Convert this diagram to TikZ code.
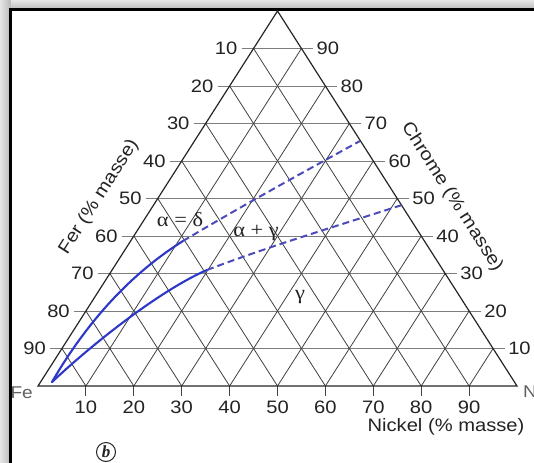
\documentclass[tikz,border=0pt]{standalone}
\usepackage{fontspec}
\setmainfont{Liberation Sans}[FakeStretch=1.12]
\newfontfamily\grk{Liberation Serif}[FakeStretch=1.12]
\newfontfamily\bserif{Liberation Serif}
\usetikzlibrary{calc}
\definecolor{curvecol}{RGB}{45,55,200}
\definecolor{dashcol}{RGB}{75,75,190}
\definecolor{txt}{RGB}{35,35,35}
\definecolor{hgrid}{RGB}{125,125,125}
\definecolor{dgrid}{RGB}{65,65,65}
\begin{document}
\begin{tikzpicture}[x=1pt,y=-1pt,
  lbl/.style={text=txt,inner sep=0pt,font=\fontsize{18}{20}\selectfont},
  hline/.style={draw=hgrid,line width=0.9pt},
  dline/.style={draw=dgrid,line width=0.8pt},
  outline/.style={draw=black!85,line width=1.2pt},
  solidcurve/.style={draw=curvecol,line width=2.1pt,line cap=round},
  dashcurve/.style={draw=dashcol,line width=2pt,dash pattern=on 7pt off 4pt},
  phase/.style={lbl,font=\grk\fontsize{20}{22}\selectfont}]
\useasboundingbox (0,0) rectangle (534,462);
% frame with shadow
\shade[top color=gray!20,bottom color=gray!55] (0,0) rectangle (534,9.5);
\shade[left color=gray!20,right color=gray!55] (0,0) rectangle (10.5,462);
\fill[white] (10.5,9.5) rectangle (540,470);
\draw[line width=2.8pt,black] (10.5,470) -- (10.5,9.5) -- (540,9.5);
% triangle vertices
\coordinate (Fe) at (38,386);
\coordinate (Ni) at (517,386);
\coordinate (Top) at (277.5,11);
% grid
\foreach \k in {1,...,9}{
  \pgfmathsetmacro{\f}{\k/10}
  \pgfmathsetmacro{\g}{1-\k/10}
  \pgfmathtruncatemacro{\lv}{100-10*\k}
  \pgfmathtruncatemacro{\rv}{10*\k}
  \coordinate (L\k) at ($(Fe)!\f!(Top)$);
  \coordinate (R\k) at ($(Ni)!\f!(Top)$);
  \coordinate (B\k) at ($(Fe)!\f!(Ni)$);
  \coordinate (S\k) at ($(Ni)!\g!(Top)$);
  \draw[hline] ($(L\k)+(-12,0)$) -- ($(R\k)+(12,0)$);
  \draw[dline] (B\k) -- (L\k);
  \draw[dline] (B\k) -- (S\k);
  \draw[dline] (B\k) -- ++(0,10);
  \node[lbl,anchor=east] (fl\k) at ($(L\k)+(-16,0)$) {\lv};
  \node[lbl,anchor=west] (cl\k) at ($(R\k)+(15,0)$) {\rv};
  \node[lbl] (nl\k) at ($(B\k)+(0,21)$) {\rv};
}
\draw[outline] (Fe) -- (Ni) -- (Top) -- cycle;
% curves
\coordinate (c0) at (52,382);
\coordinate (u1) at (183,241);
\coordinate (u2) at (360,141);
\coordinate (l1) at (207,270);
\coordinate (l2) at (402,205);
\draw[solidcurve] (c0) .. controls (88,320) and (132,273) .. (u1);
\draw[dashcurve] (u1) .. controls (240,207) and (300,174) .. (u2);
\draw[solidcurve] (c0) .. controls (100,337) and (165,288) .. (l1);
\draw[dashcurve] (l1) .. controls (270,246) and (340,225) .. (l2);
% phase labels
\node[phase] (ad) at (180,220) {α = δ};
\node[phase] (ag) at (256,233) {α + γ};
\node[phase] (gg) at (300,297) {γ};
% axis titles
\node[lbl,rotate=57.4] (fer) at (99,197) {Fer (\% masse)};
\node[lbl,rotate=-57.4] (chrome) at (452,197) {Chrome (\% masse)};
\node[lbl] (nickel) at (446,427) {Nickel (\% masse)};
\node[lbl,anchor=east,text=gray!75!black,font=\fontsize{17}{19}\selectfont] (felbl) at (33,393) {Fe};
\node[lbl,anchor=west,text=gray!75!black,font=\fontsize{17}{19}\selectfont] (nilbl) at (523,391) {Ni};
\node[circle,draw=txt,line width=1pt,inner sep=0pt,minimum size=19pt,text=txt,font=\bserif\bfseries\itshape\fontsize{17}{19}\selectfont] (bb) at (106,452) {b};
\end{tikzpicture}
\end{document}
